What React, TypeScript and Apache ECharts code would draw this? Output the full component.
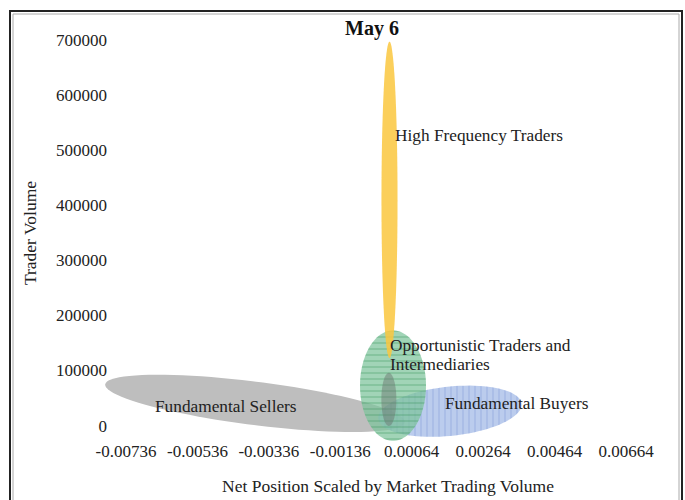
import React, { useEffect, useRef } from "react";
import * as echarts from "echarts";

// Axis definition
const X_MIN = -0.00736;
const X_MAX = 0.00664;
const X_STEP = 0.002;
const Y_MIN = 0;
const Y_MAX = 700000;
const Y_STEP = 100000;

// Trader group ellipses (center, semi-axes in data units, tilt in degrees)
const ellipseNames = [
  "Fundamental Sellers",
  "Fundamental Buyers",
  "Opportunistic Traders and Intermediaries",
  "High Frequency Traders",
  "Overlap",
];
const centerX = [-0.003748, 0.001712, 0.000116, 0.000018, 0.0];
const centerY = [41070, 26786, 73214, 410000, 48214];
const radiusX = [0.004228, 0.002016, 0.000924, 0.000225, 0.00021];
const radiusY = [39286, 44643, 100000, 287000, 48214];
const tiltDeg = [7.2, -6, 0, 0, 0];

// Annotation labels
const labelText = [
  "High Frequency Traders",
  "Opportunistic Traders and\nIntermediaries",
  "Fundamental Sellers",
  "Fundamental Buyers",
];
const labelX = [0.000172, 0.000032, -0.006548, 0.001572];
const labelY = [526786, 129464, 35714, 41071];

const FILLS = [
  "rgba(190,190,190,1)",
  "rgba(168,190,232,0.78)",
  "rgba(125,196,155,0.72)",
  "rgba(250,199,62,0.85)",
  "rgba(105,112,108,0.45)",
];
const HATCH = [null, "v", "h", null, null];
const HATCH_COLOR = [
  "",
  "rgba(110,140,212,0.6)",
  "rgba(60,150,95,0.65)",
  "",
  "",
];

const FONT = "'Liberation Serif', 'Times New Roman', serif";

export default function App() {
  const ref = useRef<HTMLDivElement>(null);

  useEffect(() => {
    document.body.style.margin = "0";
    if (!ref.current) return;
    const chart = echarts.init(ref.current, null, { renderer: "svg" });

    const ellipseData = ellipseNames.map((n, i) => ({
      name: n,
      value: [centerX[i], centerY[i], radiusX[i], radiusY[i], tiltDeg[i]],
    }));
    const labelData = labelText.map((t, i) => ({
      name: t,
      value: [labelX[i], labelY[i]],
    }));

    const option: any = {
      animation: false,
      grid: { left: 126, right: 59, top: 40, bottom: 68 },
      xAxis: {
        type: "value",
        min: X_MIN,
        max: X_MAX,
        interval: X_STEP,
        axisLine: { show: false },
        axisTick: { show: false },
        splitLine: { show: false },
        axisLabel: {
          margin: 17,
          color: "#222",
          fontFamily: FONT,
          fontSize: 17,
          formatter: (v: number) => v.toFixed(5),
        },
        name: "Net Position Scaled by Market Trading Volume",
        nameLocation: "middle",
        nameGap: 51,
        nameTextStyle: {
          color: "#222",
          fontFamily: FONT,
          fontSize: 17.5,
          padding: [0, 0, 0, 24],
        },
      },
      yAxis: {
        type: "value",
        min: Y_MIN,
        max: Y_MAX,
        interval: Y_STEP,
        axisLine: { show: false },
        axisTick: { show: false },
        splitLine: { show: false },
        axisLabel: {
          margin: 19,
          color: "#222",
          fontFamily: FONT,
          fontSize: 17,
          formatter: (v: number) => String(v),
        },
        name: "Trader Volume",
        nameLocation: "middle",
        nameGap: 87,
        nameTextStyle: { color: "#222", fontFamily: FONT, fontSize: 17.5 },
      },
      graphic: [
        {
          type: "rect",
          shape: { x: 10, y: 11, width: 672, height: 520 },
          style: { fill: "none", stroke: "#222", lineWidth: 2 },
          silent: true,
        },
        {
          type: "rect",
          shape: { x: 13, y: 14, width: 666, height: 520 },
          style: { fill: "none", stroke: "#aaa", lineWidth: 1 },
          silent: true,
        },
        {
          type: "text",
          x: 372,
          y: 28,
          style: {
            text: "May 6",
            fill: "#111",
            font: `bold 20px ${FONT}`,
            align: "center",
            verticalAlign: "middle",
          },
        },
      ],
      series: [
        {
          type: "custom",
          clip: false,
          data: ellipseData,
          renderItem: (params: any, api: any) => {
            const i = params.dataIndex;
            const c = api.coord([api.value(0), api.value(1)]);
            const s = api.size([api.value(2), api.value(3)]);
            const a = s[0];
            const b = s[1];
            const th = (api.value(4) * Math.PI) / 180;
            const pts: number[][] = [];
            const N = 90;
            let minX = Infinity, maxX = -Infinity, minY = Infinity, maxY = -Infinity;
            for (let k = 0; k < N; k++) {
              const t = (k / N) * Math.PI * 2;
              const px = c[0] + a * Math.cos(t) * Math.cos(th) - b * Math.sin(t) * Math.sin(th);
              const py = c[1] + a * Math.cos(t) * Math.sin(th) + b * Math.sin(t) * Math.cos(th);
              pts.push([px, py]);
              minX = Math.min(minX, px); maxX = Math.max(maxX, px);
              minY = Math.min(minY, py); maxY = Math.max(maxY, py);
            }
            const children: any[] = [
              {
                type: "polygon",
                shape: { points: pts },
                style: { fill: FILLS[i], stroke: "none" },
              },
            ];
            const h = HATCH[i];
            if (h) {
              const lines: any[] = [];
              const step = 6;
              if (h === "h") {
                for (let y = Math.ceil(minY); y <= maxY; y += step) {
                  lines.push({
                    type: "line",
                    shape: { x1: minX, y1: y, x2: maxX, y2: y },
                    style: { stroke: HATCH_COLOR[i], lineWidth: 0.8 },
                  });
                }
              } else {
                for (let x = Math.ceil(minX); x <= maxX; x += step) {
                  lines.push({
                    type: "line",
                    shape: { x1: x, y1: minY, x2: x, y2: maxY },
                    style: { stroke: HATCH_COLOR[i], lineWidth: 0.7 },
                  });
                }
              }
              children.push({
                type: "group",
                children: lines,
                clipPath: { type: "polygon", shape: { points: pts } },
              });
            }
            return { type: "group", children };
          },
          silent: true,
          z: 2,
        },
        {
          type: "custom",
          clip: false,
          data: labelData,
          renderItem: (params: any, api: any) => {
            const p = api.coord([api.value(0), api.value(1)]);
            return {
              type: "text",
              x: p[0],
              y: p[1],
              style: {
                text: labelText[params.dataIndex],
                fill: "#222",
                font: `17.3px ${FONT}`,
                align: "left",
                verticalAlign: "middle",
                lineHeight: 19,
              },
            };
          },
          silent: true,
          z: 5,
        },
      ],
    };

    chart.setOption(option);
    return () => chart.dispose();
  }, []);

  return <div ref={ref} style={{ width: 685, height: 500 }} />;
}
